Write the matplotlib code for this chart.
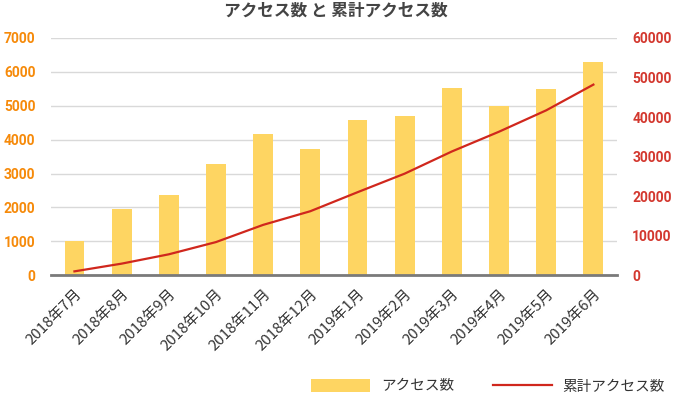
import numpy as np
import matplotlib.pyplot as plt
from matplotlib.patches import Patch
from matplotlib.lines import Line2D

plt.rcParams['font.family'] = ['Noto Sans CJK JP', 'DejaVu Sans']

months = ["2018年7月", "2018年8月", "2018年9月", "2018年10月", "2018年11月", "2018年12月",
          "2019年1月", "2019年2月", "2019年3月", "2019年4月", "2019年5月", "2019年6月"]
access = [1000, 1950, 2360, 3270, 4170, 3710, 4570, 4690, 5510, 4980, 5480, 6300]
cumulative = [1000, 2950, 5310, 8400, 12750, 16200, 21000, 25700, 31300, 36300, 41700, 48200]

BAR_C = '#FED562'
LINE_C = '#D0271D'
LEFT_C = '#F68A0A'
RIGHT_C = '#D3382F'

fig = plt.figure(figsize=(6.78, 3.95), dpi=100)
ax = fig.add_axes([0.075, 0.303, 0.835, 0.601])
ax2 = ax.twinx()

x = np.arange(len(months))
ax.bar(x, access, width=0.42, color=BAR_C, zorder=2)
ax2.plot(x, cumulative, color=LINE_C, lw=1.6, zorder=3)

ax.set_xlim(-0.5, len(months) - 0.5)
ax.set_ylim(0, 7000)
ax2.set_ylim(0, 60000)
ax.set_yticks(np.arange(0, 7001, 1000))
ax2.set_yticks(np.arange(0, 60001, 10000))

ax.yaxis.grid(True, color='#D9D9D9', lw=1, zorder=0)
ax.set_axisbelow(True)

for a in (ax, ax2):
    for s in ('top', 'right', 'left'):
        a.spines[s].set_visible(False)
ax2.spines['bottom'].set_visible(False)
ax.spines['bottom'].set_color('#7A7A7A')
ax.spines['bottom'].set_linewidth(2)

ax.tick_params(axis='y', length=0, pad=11, labelcolor=LEFT_C)
ax2.tick_params(axis='y', length=0, pad=11, labelcolor=RIGHT_C)
for lab in ax.get_yticklabels() + ax2.get_yticklabels():
    lab.set_fontfamily('Roboto')
    lab.set_fontweight('bold')
    lab.set_fontsize(10)

ax.set_xticks(x)
ax.set_xticklabels(months, rotation=45, ha='right', rotation_mode='anchor',
                   fontsize=10.8, color='#333333')
ax.tick_params(axis='x', length=0, pad=8)

fig.text(0.495, 0.972, "アクセス数 と 累計アクセス数", ha='center', va='center',
         fontsize=12, fontweight='bold', color='#444444')

handles = [Patch(facecolor=BAR_C, edgecolor='none'),
           Line2D([0], [0], color=LINE_C, lw=1.6)]
fig.legend(handles, ["アクセス数", "累計アクセス数"], loc='center',
           bbox_to_anchor=(0.72, 0.022), ncol=2, frameon=False,
           handlelength=4, handleheight=1.0, handletextpad=0.75,
           columnspacing=2.7, prop={'size': 10.5}, labelcolor='#333333')

fig.savefig('out.png', dpi=100)
